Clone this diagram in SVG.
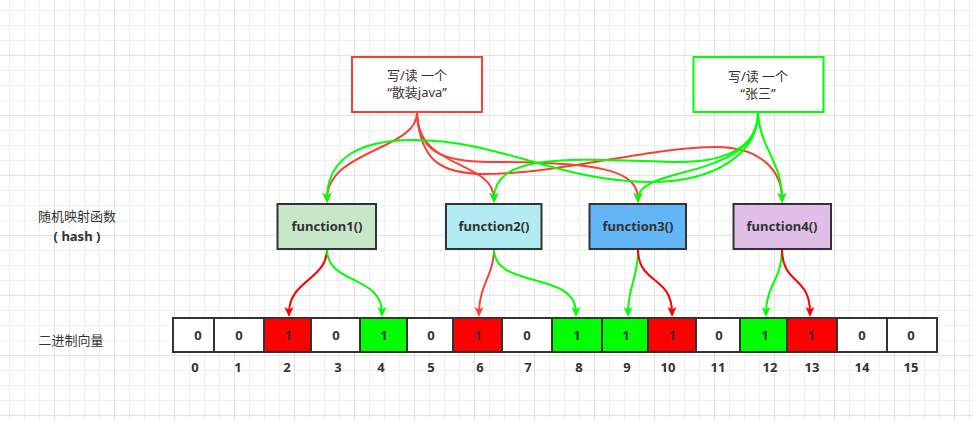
<svg xmlns="http://www.w3.org/2000/svg" width="973" height="421" viewBox="0 0 973 421">
<defs>
<pattern id="grid" x="54" y="55" width="60" height="60" patternUnits="userSpaceOnUse">
<path d="M15.5,0V60M30.5,0V60M45.5,0V60M0,15.5H60M0,30.5H60M0,45.5H60" stroke="#efefef" stroke-width="1" fill="none"/>
<path d="M0.5,0V60M0,0.5H60" stroke="#e2e2e2" stroke-width="1" fill="none"/>
</pattern>
<marker id="mr" markerUnits="userSpaceOnUse" markerWidth="10" markerHeight="9" refX="6" refY="4.5" orient="auto" overflow="visible"><path d="M0,0L10,4.5L0,9L2.5,4.5z" fill="#f44336"/></marker>
<marker id="mR" markerUnits="userSpaceOnUse" markerWidth="10" markerHeight="9" refX="6" refY="4.5" orient="auto" overflow="visible"><path d="M0,0L10,4.5L0,9L2.5,4.5z" fill="#ff0000"/></marker>
<marker id="mg" markerUnits="userSpaceOnUse" markerWidth="10" markerHeight="9" refX="6" refY="4.5" orient="auto" overflow="visible"><path d="M0,0L10,4.5L0,9L2.5,4.5z" fill="#00ff00"/></marker>
</defs>
<style>
text{font-family:"Noto Sans","Noto Sans CJK SC",sans-serif;fill:#333;font-size:13px;text-anchor:middle}
.b{font-weight:bold}
.fn{stroke:#333;stroke-width:2}
.c{stroke:#333;stroke-width:2}
.w{fill:#fff}.r{fill:#ff0000}.g{fill:#00ff00}
.e{fill:none;stroke-width:2}
.er{stroke:#f44336;marker-end:url(#mr)}
.eR{stroke:#ff0000;marker-end:url(#mR)}
.eg{stroke:#00ff00;marker-end:url(#mg)}
</style>
<rect width="973" height="421" fill="#fff"/>
<rect width="973" height="421" fill="url(#grid)"/>

<g id="labels">
<text x="77" y="221">随机映射函数</text>
<text x="77" y="241" class="b">( hash )</text>
<text x="71" y="345">二进制向量</text>
</g>

<g id="connectors">
<path class="e er" d="M417,113 C417,150 327,150 327,199"/>
<path class="e er" d="M417,113 C417,170 494,160 494,199"/>
<path class="e er" d="M417,113 C418,150 440,162 490,162 C600,162 638,170 638,199"/>
<path class="e er" d="M417,113 C420,160 440,174 485,174 C560,174 650,147 716,147 C760,147 782,170 782,199"/>
<path class="e eg" d="M758,113 C758,150 720,182 650,182 C560,182 500,140 413,140 C350,140 327,165 327,199"/>
<path class="e eg" d="M758,113 C758,150 720,162 680,162 C580,160 494,150 494,199"/>
<path class="e eg" d="M758,113 C758,180 638,165 638,199"/>
<path class="e eg" d="M758,113 C760,150 782,160 782,199"/>

<path class="e eR" d="M327,249 C327,280 289,280 289,313"/>
<path class="e eg" d="M327,249 C327,285 382,275 382,313"/>
<path class="e er" d="M494,249 C494,275 479,285 479,313"/>
<path class="e eg" d="M494,249 C494,290 576,270 576,313"/>
<path class="e eg" d="M638,249 C638,280 628,285 628,313"/>
<path class="e eR" d="M638,249 C638,285 672,275 672,313"/>
<path class="e eg" d="M782,249 C782,280 766,285 766,313"/>
<path class="e eR" d="M782,249 C782,285 810,275 810,313"/>
</g>

<g id="src-red">
<rect x="352" y="57" width="130" height="55" fill="#fff" stroke="#f44336" stroke-width="2"/>
<text x="417" y="80">写/读 一个</text>
<text x="417" y="97">“散装java”</text>
</g>
<g id="src-green">
<rect x="693.5" y="57" width="130" height="55" fill="#fff" stroke="#00ff00" stroke-width="2"/>
<text x="758" y="81">写/读 一个</text>
<text x="758" y="98">“张三”</text>
</g>

<g id="function1"><rect class="fn" x="277.5" y="204" width="98.5" height="45" fill="#c8e6c9"/><text class="b" x="327" y="231">function1()</text></g>
<g id="function2"><rect class="fn" x="446" y="204" width="95.5" height="45" fill="#b2ebf2"/><text class="b" x="494" y="231">function2()</text></g>
<g id="function3"><rect class="fn" x="589.5" y="204" width="96.5" height="45" fill="#64b5f6"/><text class="b" x="638" y="231">function3()</text></g>
<g id="function4"><rect class="fn" x="733.5" y="204" width="97.5" height="45" fill="#e1bee7"/><text class="b" x="782" y="231">function4()</text></g>

<g id="bitvector">
<rect class="c w" x="173" y="318" width="41" height="34"/>
<rect class="c w" x="214" y="318" width="50" height="34"/>
<rect class="c r" x="264" y="318" width="47" height="34"/>
<rect class="c w" x="311" y="318" width="49" height="34"/>
<rect class="c g" x="360" y="318" width="47" height="34"/>
<rect class="c w" x="407" y="318" width="46" height="34"/>
<rect class="c r" x="453" y="318" width="49" height="34"/>
<rect class="c w" x="502" y="318" width="50" height="34"/>
<rect class="c g" x="552" y="318" width="50" height="34"/>
<rect class="c g" x="602" y="318" width="46" height="34"/>
<rect class="c r" x="648" y="318" width="48" height="34"/>
<rect class="c w" x="696" y="318" width="44" height="34"/>
<rect class="c g" x="740" y="318" width="47" height="34"/>
<rect class="c r" x="787" y="318" width="50" height="34"/>
<rect class="c w" x="837" y="318" width="50" height="34"/>
<rect class="c w" x="887" y="318" width="50" height="34"/>
<text class="b" x="198" y="340">0</text>
<text class="b" x="239" y="340">0</text>
<text class="b" x="288" y="340">1</text>
<text class="b" x="336" y="340">0</text>
<text class="b" x="384" y="340">1</text>
<text class="b" x="431" y="340">0</text>
<text class="b" x="478" y="340">1</text>
<text class="b" x="527" y="340">0</text>
<text class="b" x="577" y="340">1</text>
<text class="b" x="626" y="340">1</text>
<text class="b" x="672" y="340">1</text>
<text class="b" x="719" y="340">0</text>
<text class="b" x="765" y="340">1</text>
<text class="b" x="811" y="340">1</text>
<text class="b" x="862" y="340">0</text>
<text class="b" x="911" y="340">0</text>
</g>

<g id="indices">
<text class="b" x="195" y="372">0</text>
<text class="b" x="238" y="372">1</text>
<text class="b" x="287" y="372">2</text>
<text class="b" x="338" y="372">3</text>
<text class="b" x="381" y="372">4</text>
<text class="b" x="431" y="372">5</text>
<text class="b" x="480" y="372">6</text>
<text class="b" x="528" y="372">7</text>
<text class="b" x="579" y="372">8</text>
<text class="b" x="627" y="372">9</text>
<text class="b" x="668" y="372">10</text>
<text class="b" x="718" y="372">11</text>
<text class="b" x="770" y="372">12</text>
<text class="b" x="812" y="372">13</text>
<text class="b" x="862" y="372">14</text>
<text class="b" x="911" y="372">15</text>
</g>
</svg>
